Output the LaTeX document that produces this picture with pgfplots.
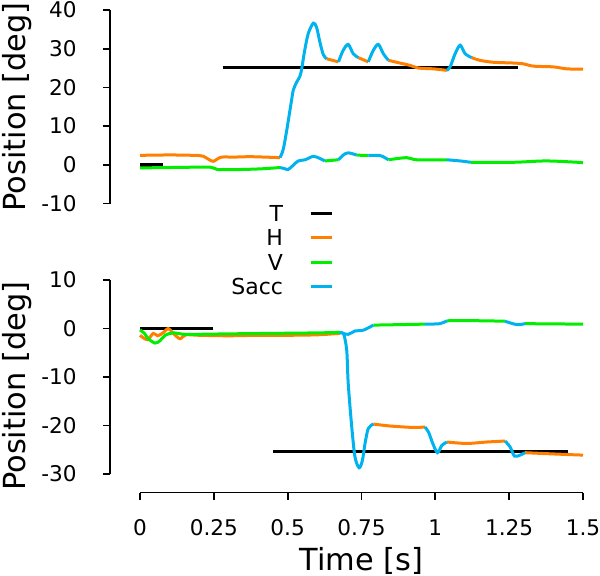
\documentclass[border=0pt]{standalone}
\usepackage{fontspec}
\setmainfont{DejaVu Sans}
\usepackage{pgfplots}
\pgfplotsset{compat=1.18}
\definecolor{cH}{RGB}{255,127,0}
\definecolor{cV}{RGB}{0,238,0}
\definecolor{cS}{RGB}{0,178,238}
\pgfplotsset{
 base/.style={
  scale only axis, width=236.5pt,
  xmin=-0.1016, xmax=1.5,
  axis y line*=left,
  tick align=outside,
  major tick length=3.5pt,
  every tick/.style={black, line width=0.9pt},
  axis line style={line width=0.9pt},
  tick label style={font=\fontsize{10.8}{13}\selectfont, inner sep=0pt},
  yticklabel shift=13pt,
  xticklabel shift=9.75pt,
  label style={font=\fontsize{15.2}{18}\selectfont, inner sep=0pt},
  /pgf/number format/assume math mode=true,
  ylabel={Position [deg]},
  ylabel style={at={(axis description cs:-0.1966,0.5)}, anchor=center},
  unbounded coords=jump,
  clip=false,
 },
 tr/.style={line width=1.5pt, smooth, tension=0.5},
}
\begin{document}
\begin{tikzpicture}
\useasboundingbox (-55pt,-185.75pt) rectangle (245pt,101.75pt);
\begin{axis}[base, at={(0,0)}, anchor=south west, height=96.75pt,
  ymin=-10, ymax=40, ytick={-10,0,10,20,30,40},
  axis x line=none,
  legend style={at={(axis description cs:0.4715,-0.008)}, anchor=north east, draw=none, fill=none,
    inner sep=0pt, outer sep=0pt, row sep=4.3pt, column sep=13pt,
    font=\fontsize{11}{13}\selectfont,
    nodes={inner sep=0pt, text height=8pt, text depth=0pt}},
  legend cell align=right, legend plot pos=right,
  legend image code/.code={\draw[#1, line width=1.5pt] (0pt,0pt) -- (10.5pt,0pt);}]
\addplot[black, line width=1.7pt] coordinates {(0,0) (0.078,0) (0.078,nan) (0.28,25.2) (1.28,25.2)};
\addlegendentry{T}
\addplot[cH, tr] coordinates {
(0,2.45)(0.05,2.5)(0.1,2.55)(0.15,2.5)(0.2,2.4)(0.215,2.2)(0.235,1.3)(0.248,0.9)(0.262,1.5)(0.277,2.0)(0.32,2.0)(0.37,2.1)(0.42,2.0)(0.474,1.85)
(0.5,nan)
(0.632,27.4)(0.672,26.6)
(0.7,nan)
(0.739,27.7)(0.773,26.6)
(0.8,nan)
(0.841,27.0)(0.880,26.3)(0.914,25.7)(0.943,25.0)(0.993,24.8)(1.039,24.4)
(1.05,nan)
(1.123,27.7)(1.151,27.0)(1.196,26.5)(1.264,26.3)(1.298,26.1)(1.332,25.5)(1.400,25.3)(1.445,24.8)(1.5,24.7)};
\addlegendentry{H}
\addplot[cV, tr] coordinates {
(0,-0.8)(0.1,-0.7)(0.2,-0.6)(0.237,-0.6)(0.255,-1.0)(0.27,-1.25)(0.35,-1.2)(0.42,-1.0)(0.474,-0.7)
(0.5,nan)
(0.626,1.0)(0.672,1.3)
(0.7,nan)
(0.734,2.5)(0.773,2.4)
(0.8,nan)
(0.841,1.3)(0.903,1.85)(0.937,1.3)(1.039,1.3)
(1.05,nan)
(1.120,0.65)(1.264,0.65)(1.377,1.0)(1.5,0.57)};
\addlegendentry{V}
\addplot[cS, tr] coordinates {
(0.474,1.85)(0.485,4)(0.497,9)(0.513,16.6)(0.519,19.3)(0.530,21.3)(0.541,22.8)(0.547,24.6)(0.558,29.7)(0.570,34)(0.587,36.6)(0.598,35.5)(0.610,31.4)(0.621,28.4)(0.632,27.4)
(0.65,nan)
(0.672,26.6)(0.688,29.6)(0.705,31.1)(0.722,28.7)(0.739,27.7)
(0.75,nan)
(0.773,26.6)(0.790,29.6)(0.807,31.1)(0.824,28.7)(0.841,27.0)
(0.9,nan)
(1.039,24.4)(1.050,25.3)(1.067,28.7)(1.084,30.9)(1.101,28.7)(1.123,27.7)
(1.2,nan)
(0.474,-0.7)(0.49,-1.0)(0.502,-1.2)(0.519,-0.1)(0.536,1.0)(0.559,1.3)(0.587,2.2)(0.610,1.6)(0.626,1.0)
(0.65,nan)
(0.672,1.3)(0.688,2.5)(0.705,3.1)(0.734,2.5)
(0.75,nan)
(0.773,2.4)(0.813,2.4)(0.841,1.3)
(0.9,nan)
(1.039,1.3)(1.084,1.0)(1.120,0.65)};
\addlegendentry{Sacc}
\end{axis}
\begin{axis}[base, at={(0,-38.25pt)}, anchor=north west, height=106.25pt,
  ymin=-33.81, ymax=10, ytick={-30,-20,-10,0,10},
  axis x line*=bottom,
  axis line style={draw=none},
  xtick={0,0.25,0.5,0.75,1,1.25,1.5},
  xticklabels={0,0.25,0.5,0.75,1,1.25,1.5},
  xlabel={Time [s]},
  xlabel style={at={(axis description cs:0.5317,-0.3647)}, anchor=base}]
\draw[line width=0.9pt] (axis cs:-0.1016,-30) -- (axis cs:-0.1016,10);
\draw[line width=0.9pt] (axis cs:0,-33.81) -- (axis cs:1.5,-33.81);
\addplot[black, line width=1.7pt] coordinates {(0,0) (0.248,0) (0.3,nan) (0.451,-25.3) (1.45,-25.3)};
\addplot[cH, tr] coordinates {
(0,-1.4)(0.025,-2.3)(0.045,-1.0)(0.06,-1.5)(0.08,-0.8)(0.095,0.0)(0.113,-1.0)(0.135,-2.1)(0.155,-1.3)(0.2,-1.4)(0.3,-1.5)(0.4,-1.4)(0.5,-1.4)(0.6,-1.3)(0.677,-1.0)
(0.7,nan)
(0.790,-19.7)(0.847,-20.1)(0.926,-20.4)(0.965,-20.3)
(0.98,nan)
(1.039,-23.4)(1.106,-23.7)(1.174,-23.4)(1.236,-23.2)
(1.25,nan)
(1.304,-25.6)(1.377,-25.8)(1.456,-26.0)(1.5,-26.1)};
\addplot[cV, tr] coordinates {
(0,-0.3)(0.015,-1.0)(0.028,-2.1)(0.051,-3.0)(0.068,-2.5)(0.085,-1.4)(0.113,-0.9)(0.158,-1.2)(0.3,-1.1)(0.45,-1.0)(0.6,-0.9)(0.677,-0.8)
(0.7,nan)
(0.790,0.7)(0.965,0.9)
(0.98,nan)
(1.039,1.6)(1.151,1.6)(1.236,1.5)
(1.25,nan)
(1.304,1.0)(1.5,0.9)};
\addplot[cS, tr] coordinates {
(0.677,-1.0)(0.689,-1.0)(0.700,-4.5)(0.705,-11.3)(0.717,-20.3)(0.728,-26.5)(0.742,-28.7)(0.753,-27.2)(0.762,-23.7)(0.773,-20.6)(0.790,-19.7)
(0.8,nan)
(0.965,-20.3)(0.978,-21.5)(0.990,-23.5)(1.007,-25.6)(1.022,-24.1)(1.039,-23.4)
(1.1,nan)
(1.236,-23.2)(1.253,-24.4)(1.268,-26.3)(1.287,-26.1)(1.304,-25.6)
(1.4,nan)
(0.677,-0.8)(0.705,-1.2)(0.728,-0.5)(0.756,-0.35)(0.790,0.7)
(0.8,nan)
(0.965,0.9)(1.016,1.0)(1.039,1.6)
(1.1,nan)
(1.236,1.5)(1.276,0.8)(1.304,1.0)};
\end{axis}
\end{tikzpicture}
\end{document}
